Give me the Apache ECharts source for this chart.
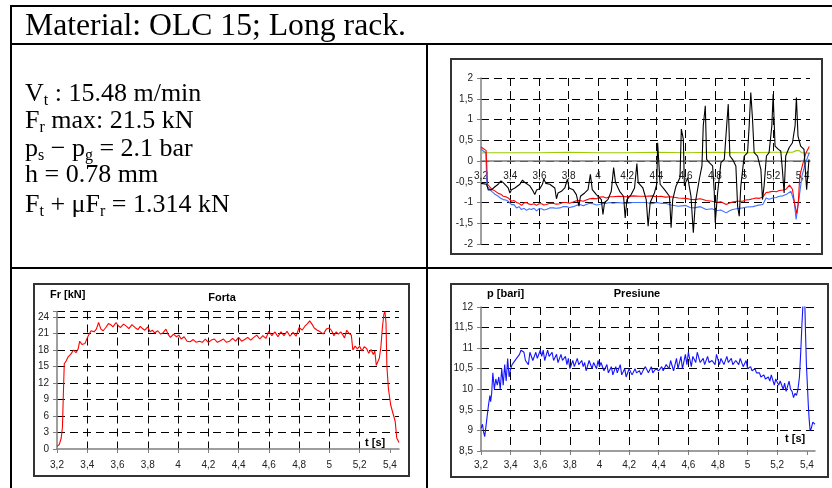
<!DOCTYPE html>
<html><head><meta charset="utf-8">
<script src="https://cdn.jsdelivr.net/npm/echarts@6/dist/echarts.min.js"></script>
<style>html,body{margin:0;padding:0;background:#fff;}#c{width:832px;height:488px;}</style>
</head><body><div id="c"></div>
<script>
// ---------- text ----------
const titleText = 'Material: OLC 15; Long rack.';
const bodyLines = [
  'V{s|t} : 15.48 m/min',
  'F{s|r} max: 21.5 kN',
  'p{s|s} − p{s|g} = 2.1 bar',
  'h = 0.78 mm',
  'F{s|t} + μF{s|r} = 1.314 kN'
];
const forceTitle = 'Forta', forceUnit = 'Fr [kN]';
const pressTitle = 'Presiune', pressUnit = 'p [bari]';
const timeUnit = 't [s]';

// ---------- top-right chart (mixed signals) ----------
const greenSig = [[3.2,0.19],[3.23,0.2],[3.4,0.2],[3.6,0.2],[3.8,0.21],[4.0,0.2],[4.2,0.2],[4.4,0.21],[4.6,0.2],[4.8,0.21],[5.0,0.2],[5.2,0.21],[5.33,0.21],[5.355,0.25],[5.375,0.25],[5.395,0.2],[5.45,0.19]];
const redSig = [[3.2,0.34],[3.215,0.3],[3.235,0.25],[3.245,-0.56],[3.273,-0.68],[3.295,-0.72],[3.318,-0.78],[3.335,-0.8],[3.352,-0.85],[3.37,-0.86],[3.386,-0.89],[3.409,-0.97],[3.425,-0.95],[3.443,-1.0],[3.46,-1.02],[3.477,-1.07],[3.495,-1.01],[3.511,-1.0],[3.53,-1.04],[3.545,-1.05],[3.562,-1.03],[3.58,-1.07],[3.597,-1.03],[3.614,-1.03],[3.63,-1.06],[3.648,-1.05],[3.67,-1.02],[3.693,-1.02],[3.715,-1.04],[3.739,-1.03],[3.76,-1.0],[3.784,-1.0],[3.806,-1.02],[3.83,-0.99],[3.852,-0.96],[3.875,-0.95],[3.9,-0.97],[3.92,-0.94],[3.943,-0.91],[3.966,-0.9],[3.99,-0.91],[4.011,-0.87],[4.035,-0.86],[4.057,-0.89],[4.08,-0.86],[4.102,-0.86],[4.14,-0.85],[4.193,-0.86],[4.24,-0.84],[4.284,-0.85],[4.33,-0.85],[4.37,-0.84],[4.4,-0.86],[4.43,-0.85],[4.46,-0.87],[4.5,-0.86],[4.55,-0.89],[4.6,-0.9],[4.63,-0.92],[4.66,-0.93],[4.7,-0.91],[4.74,-0.95],[4.78,-0.97],[4.81,-1.0],[4.84,-0.98],[4.877,-1.05],[4.9,-1.01],[4.92,-0.99],[4.95,-0.97],[4.99,-0.97],[5.01,-0.94],[5.035,-0.93],[5.06,-0.91],[5.08,-0.89],[5.105,-0.9],[5.127,-0.87],[5.15,-0.76],[5.17,-0.75],[5.195,-0.73],[5.22,-0.74],[5.24,-0.71],[5.265,-0.7],[5.286,-0.68],[5.31,-0.58],[5.33,-0.68],[5.348,-1.09],[5.36,-1.27],[5.37,-1.0],[5.38,-0.36],[5.4,-0.08],[5.423,0.2],[5.445,0.35]];
const blueSig = [[3.2,0.3],[3.215,0.24],[3.233,0.2],[3.24,-0.6],[3.273,-0.73],[3.295,-0.8],[3.318,-0.85],[3.335,-0.9],[3.352,-0.93],[3.37,-0.94],[3.386,-0.97],[3.409,-1.05],[3.425,-1.05],[3.443,-1.13],[3.46,-1.1],[3.477,-1.17],[3.495,-1.14],[3.511,-1.19],[3.53,-1.15],[3.545,-1.17],[3.562,-1.14],[3.58,-1.2],[3.597,-1.15],[3.614,-1.15],[3.63,-1.18],[3.648,-1.17],[3.67,-1.13],[3.693,-1.13],[3.715,-1.14],[3.739,-1.13],[3.76,-1.1],[3.784,-1.1],[3.806,-1.12],[3.83,-1.1],[3.852,-1.07],[3.875,-1.05],[3.9,-1.08],[3.92,-1.05],[3.943,-1.02],[3.966,-1.03],[3.99,-1.06],[4.011,-1.05],[4.035,-1.02],[4.057,-1.02],[4.08,-1.0],[4.102,-1.02],[4.14,-1.0],[4.193,-1.02],[4.24,-1.0],[4.284,-1.0],[4.33,-1.0],[4.37,-1.03],[4.4,-1.0],[4.43,-1.02],[4.46,-1.02],[4.5,-1.06],[4.55,-1.09],[4.6,-1.07],[4.63,-1.12],[4.66,-1.13],[4.7,-1.1],[4.74,-1.17],[4.78,-1.15],[4.81,-1.2],[4.84,-1.18],[4.877,-1.25],[4.9,-1.2],[4.92,-1.17],[4.95,-1.15],[4.99,-1.13],[5.02,-1.11],[5.06,-1.1],[5.09,-1.07],[5.127,-1.05],[5.15,-0.89],[5.17,-0.92],[5.195,-0.89],[5.22,-0.88],[5.24,-0.85],[5.265,-0.84],[5.286,-0.81],[5.32,-0.73],[5.343,-1.0],[5.355,-1.41],[5.366,-1.37],[5.377,-0.85],[5.395,-0.36],[5.42,-0.04],[5.445,0.2]];
const blackSig = [[3.2,-0.54],[3.239,-0.56],[3.25,-0.7],[3.273,-0.69],[3.295,-0.62],[3.318,-0.56],[3.336,-0.48],[3.352,-0.52],[3.386,-0.65],[3.398,-0.77],[3.409,-0.69],[3.432,-0.65],[3.466,-0.56],[3.484,-0.46],[3.5,-0.52],[3.534,-0.6],[3.557,-0.73],[3.568,-0.81],[3.58,-0.7],[3.602,-0.67],[3.62,-0.56],[3.63,-0.43],[3.643,-0.54],[3.67,-0.56],[3.705,-0.65],[3.716,-0.91],[3.727,-0.77],[3.75,-0.73],[3.773,-0.65],[3.791,-0.44],[3.802,-0.65],[3.83,-0.69],[3.852,-0.81],[3.87,-1.09],[3.88,-0.85],[3.909,-0.77],[3.932,-0.69],[3.948,-0.32],[3.957,-0.36],[3.961,-0.69],[3.989,-0.81],[4.023,-0.93],[4.034,-1.29],[4.045,-1.0],[4.068,-0.93],[4.091,-0.73],[4.107,-0.16],[4.12,-0.52],[4.148,-0.73],[4.175,-0.85],[4.186,-1.37],[4.198,-0.93],[4.227,-0.81],[4.25,-0.65],[4.266,-0.06],[4.275,-0.52],[4.307,-0.65],[4.33,-0.93],[4.343,-1.57],[4.357,-1.0],[4.386,-0.77],[4.402,-0.56],[4.408,0.44],[4.418,0.44],[4.425,-0.56],[4.455,-0.69],[4.489,-0.85],[4.5,-1.61],[4.511,-0.93],[4.534,-0.6],[4.561,-0.4],[4.57,0.77],[4.584,0.52],[4.591,-0.6],[4.614,-0.4],[4.636,-0.85],[4.652,-1.73],[4.666,-1.0],[4.693,-0.44],[4.711,-0.12],[4.72,0.85],[4.734,1.33],[4.743,0.04],[4.761,-0.04],[4.784,-0.12],[4.795,-0.73],[4.802,-1.49],[4.818,-0.77],[4.841,-0.04],[4.864,0.04],[4.88,0.85],[4.891,1.37],[4.902,0.12],[4.92,0.04],[4.943,-0.12],[4.955,-1.09],[4.966,-1.33],[4.977,-0.6],[5.0,0.12],[5.023,0.2],[5.034,0.85],[5.045,1.65],[5.057,1.0],[5.068,0.2],[5.091,0.12],[5.114,-0.2],[5.125,-0.93],[5.136,-0.6],[5.152,0.12],[5.17,0.2],[5.189,0.85],[5.198,1.61],[5.211,0.36],[5.234,0.28],[5.25,0.24],[5.261,-0.2],[5.273,-0.77],[5.284,0.12],[5.307,0.32],[5.33,0.44],[5.348,0.85],[5.357,1.53],[5.368,0.6],[5.386,0.36],[5.409,0.28],[5.42,0.24],[5.427,-0.69],[5.436,-0.73],[5.443,0.04]];

// ---------- Forta (Fr, kN) ----------
const forceData = [[3.2,0.5],[3.215,0.8],[3.228,2],[3.236,4],[3.242,10],[3.248,15.5],[3.26,16],[3.275,16.8],[3.29,17.2],[3.31,18],[3.325,17.5],[3.34,18.2],[3.35,19.6],[3.365,19],[3.385,19.2],[3.405,20.5],[3.425,21.5],[3.445,21.3],[3.46,21.8],[3.475,23],[3.49,21.8],[3.505,21.5],[3.52,22],[3.54,22.8],[3.555,22.6],[3.57,22.2],[3.59,23],[3.605,22.4],[3.62,22.1],[3.64,22.7],[3.66,22.3],[3.675,21.9],[3.695,22.6],[3.715,22.1],[3.735,21.7],[3.75,22.3],[3.765,21.9],[3.78,21.6],[3.8,22.2],[3.815,21.3],[3.83,21.6],[3.845,21.1],[3.865,21.5],[3.885,20.9],[3.9,21.1],[3.92,21.8],[3.935,20.8],[3.95,20.3],[3.97,20.9],[3.99,20.4],[4.005,20.7],[4.02,20.0],[4.04,20.4],[4.06,19.6],[4.08,19.5],[4.1,19.9],[4.12,19.4],[4.14,19.6],[4.16,19.4],[4.18,20.0],[4.2,19.4],[4.22,19.8],[4.24,20.0],[4.26,19.4],[4.28,19.7],[4.3,20.0],[4.32,19.4],[4.34,19.6],[4.36,20.1],[4.38,19.6],[4.4,20.3],[4.42,19.6],[4.44,19.9],[4.46,20.3],[4.48,19.8],[4.5,20.3],[4.52,20.7],[4.54,20.0],[4.56,20.6],[4.58,20.1],[4.6,21.4],[4.62,20.6],[4.64,21.3],[4.66,20.4],[4.68,21.3],[4.7,20.6],[4.72,21.4],[4.74,20.5],[4.76,21.2],[4.78,20.5],[4.8,22.1],[4.82,21.6],[4.84,22.4],[4.855,22.8],[4.87,23.3],[4.885,22.7],[4.9,22.0],[4.92,21.6],[4.94,21.3],[4.96,20.9],[4.98,21.8],[5.0,22.0],[5.015,21.5],[5.03,20.6],[5.045,21.3],[5.06,20.9],[5.075,21.3],[5.09,20.7],[5.1,20.2],[5.115,21.6],[5.13,21.0],[5.145,20.7],[5.155,18.0],[5.17,18.7],[5.185,18.2],[5.2,18.7],[5.215,17.8],[5.23,18.6],[5.245,18.3],[5.26,17.4],[5.275,18.1],[5.29,17.2],[5.3,17.8],[5.31,15.2],[5.32,15.4],[5.33,16.5],[5.34,18.5],[5.35,22],[5.36,24.5],[5.367,25],[5.374,23],[5.38,15],[5.39,11],[5.405,8],[5.415,7],[5.425,7],[5.435,5],[5.445,2],[5.46,1.2]];

// ---------- Presiune (p, bari) ----------
const pressData = [[3.2,9.05],[3.21,9.15],[3.218,8.95],[3.225,8.85],[3.232,9.05],[3.24,9.3],[3.25,9.6],[3.26,9.85],[3.265,9.7],[3.272,9.9],[3.28,10.4],[3.29,10.0],[3.3,10.25],[3.31,10.1],[3.32,10.3],[3.33,10.0],[3.34,10.5],[3.35,10.1],[3.36,10.6],[3.37,10.2],[3.38,10.75],[3.39,10.3],[3.4,10.5],[3.41,10.6],[3.42,10.6],[3.44,10.75],[3.46,10.85],[3.47,10.95],[3.49,10.9],[3.5,10.7],[3.52,10.6],[3.53,10.9],[3.55,10.7],[3.57,10.9],[3.58,10.75],[3.6,10.95],[3.61,10.8],[3.62,10.95],[3.63,10.7],[3.65,10.95],[3.66,10.8],[3.68,10.9],[3.69,10.7],[3.71,10.85],[3.72,10.65],[3.74,10.85],[3.75,10.7],[3.77,10.8],[3.78,10.6],[3.79,10.75],[3.8,10.5],[3.82,10.7],[3.83,10.55],[3.85,10.75],[3.86,10.6],[3.88,10.7],[3.89,10.55],[3.9,10.65],[3.91,10.45],[3.93,10.7],[3.95,10.5],[3.96,10.65],[3.98,10.5],[3.99,10.7],[4.0,10.55],[4.01,10.65],[4.03,10.45],[4.05,10.6],[4.06,10.4],[4.08,10.55],[4.09,10.35],[4.11,10.55],[4.12,10.4],[4.14,10.6],[4.15,10.35],[4.17,10.5],[4.18,10.3],[4.2,10.5],[4.22,10.35],[4.24,10.5],[4.25,10.4],[4.27,10.45],[4.28,10.35],[4.3,10.5],[4.31,10.55],[4.33,10.4],[4.35,10.55],[4.36,10.4],[4.38,10.5],[4.4,10.45],[4.42,10.55],[4.43,10.45],[4.45,10.6],[4.47,10.5],[4.48,10.7],[4.5,10.45],[4.52,10.75],[4.53,10.5],[4.55,10.8],[4.56,10.5],[4.58,10.85],[4.59,10.6],[4.6,10.9],[4.62,10.55],[4.63,10.8],[4.65,10.65],[4.66,10.9],[4.68,10.65],[4.7,10.75],[4.71,10.6],[4.73,10.8],[4.74,10.65],[4.76,10.7],[4.78,10.6],[4.79,10.85],[4.81,10.6],[4.82,10.75],[4.84,10.6],[4.86,10.8],[4.87,10.65],[4.89,10.75],[4.9,10.6],[4.92,10.7],[4.94,10.6],[4.95,10.75],[4.97,10.55],[4.99,10.7],[5.0,10.5],[5.02,10.55],[5.03,10.45],[5.05,10.5],[5.06,10.4],[5.08,10.4],[5.09,10.3],[5.11,10.35],[5.12,10.25],[5.14,10.3],[5.15,10.2],[5.16,10.35],[5.18,10.1],[5.19,10.25],[5.21,10.1],[5.22,10.2],[5.24,10.0],[5.25,10.15],[5.26,9.95],[5.28,10.2],[5.29,10.0],[5.3,9.95],[5.31,9.8],[5.32,9.9],[5.33,9.85],[5.34,10.0],[5.35,10.3],[5.36,11.0],[5.367,11.6],[5.373,12.0],[5.38,12.5],[5.385,12.3],[5.39,11.5],[5.397,10.6],[5.405,10.0],[5.41,9.6],[5.415,9.3],[5.422,9.0],[5.43,9.05],[5.44,9.2],[5.455,9.15]];
const tickStep = 0.2;

const isTick = v => Math.abs(v / tickStep - Math.round(v / tickStep)) < 1e-6;
const comma = v => String(Math.round(v * 100) / 100).replace('.', ',');
const LBL = { fontFamily: 'Liberation Sans, Arial, sans-serif', fontSize: 10, color: '#222' };
const DASH = { color: '#000', width: 1, type: [8, 5] };
const AXC = '#7f7f7f';

function xAx(gi, max, margin, offset) {
  const ticks = [];
  for (let i = 0; i <= 11; i++) ticks.push(Math.round((3.2 + i * tickStep) * 10) / 10);
  return {
    gridIndex: gi, type: 'value', min: 3.2, max: max, interval: tickStep, offset: offset || 0,
    axisLine: { show: true, onZero: false, lineStyle: { color: AXC, width: 1.5 } },
    axisTick: { show: gi !== 0, length: 4, customValues: ticks, lineStyle: { color: AXC } },
    axisLabel: Object.assign({}, LBL, { margin: margin, formatter: v => isTick(v) ? comma(v) : '' }),
    splitLine: { show: true, showMinLine: false, showMaxLine: false, lineStyle: DASH }
  };
}
function yAx(gi, min, max, step, showMin) {
  return {
    gridIndex: gi, type: 'value', min: min, max: max, interval: step,
    axisLine: { show: true, onZero: false, lineStyle: { color: AXC, width: 1.5 } },
    axisTick: { show: true, length: 4, lineStyle: { color: AXC } },
    axisLabel: Object.assign({}, LBL, { margin: 8, formatter: v => (Math.abs(v / step - Math.round(v / step)) < 1e-6) ? comma(v) : '' }),
    splitLine: { show: true, showMinLine: showMin, showMaxLine: true, lineStyle: DASH }
  };
}
function line(gi, data, color, z) {
  return { type: 'line', xAxisIndex: gi, yAxisIndex: gi, data: data, showSymbol: false, symbol: 'none',
    lineStyle: { color: color, width: 1.1 }, z: z || 2, clip: true, animation: false };
}

const serif = 'Liberation Serif, Times New Roman, serif';
const sans = 'Liberation Sans, Arial, sans-serif';
const bodyTops = [80, 107, 135, 161, 191];
const graphics = [];
const L = (x1, y1, x2, y2) => graphics.push({ type: 'line', shape: { x1, y1, x2, y2 }, style: { stroke: '#000', lineWidth: 2 }, z: 100 });
L(11, 6, 832, 6); L(11, 5, 11, 488); L(11, 44, 832, 44); L(427, 44, 427, 488); L(11, 268, 832, 268);
const R = (x, y, w, h) => graphics.push({ type: 'rect', shape: { x, y, width: w, height: h }, style: { fill: 'none', stroke: '#333', lineWidth: 2 }, z: 100 });
R(451, 59, 371, 195); R(34, 284, 375, 192); R(451, 284, 377, 193);
graphics.push({ type: 'text', x: 25, y: 27, style: { text: titleText, font: '31.7px ' + serif, fill: '#000', verticalAlign: 'middle' }, z: 100 });
bodyLines.forEach((t, i) => graphics.push({ type: 'text', x: 25, y: bodyTops[i], z: 100,
  style: { text: t, fontFamily: serif, fontSize: 26, lineHeight: 29, fill: '#000', verticalAlign: 'top',
    rich: { s: { fontFamily: serif, fontSize: 16, lineHeight: 16, verticalAlign: 'bottom', fill: '#000' } } } }));
const T = (x, y, text, align) => graphics.push({ type: 'text', x, y, z: 100, style: { text, font: 'bold 11px ' + sans, fill: '#000', align: align || 'left', verticalAlign: 'middle' } });
T(222, 298, forceTitle, 'center'); T(50, 295, forceUnit); T(365, 443, timeUnit);
T(637, 294, pressTitle, 'center'); T(487, 294, pressUnit); T(785, 439, timeUnit);

const chart = echarts.init(document.getElementById('c'), null, { renderer: 'canvas' });
chart.setOption({
  animation: false,
  backgroundColor: '#fff',
  grid: [
    { left: 481, top: 78, width: 329, height: 166 },
    { left: 57, top: 311.5, width: 342, height: 137.5 },
    { left: 481, top: 307, width: 334, height: 144 }
  ],
  xAxis: [xAx(0, 5.45, 10, -83), xAx(1, 5.46, 11), xAx(2, 5.455, 9)],
  yAxis: [yAx(0, -2, 2, 0.5, true), yAx(1, 0, 25, 3, false), yAx(2, 8.5, 12, 0.5, false)],
  series: [
    line(0, greenSig, '#99cc00', 2), line(0, blueSig, '#3f6fff', 3), line(0, redSig, '#ff0000', 4), line(0, blackSig, '#000000', 5),
    line(1, forceData, '#ff0000'), line(2, pressData, '#1414ff')
  ],
  graphic: graphics
});
</script></body></html>
